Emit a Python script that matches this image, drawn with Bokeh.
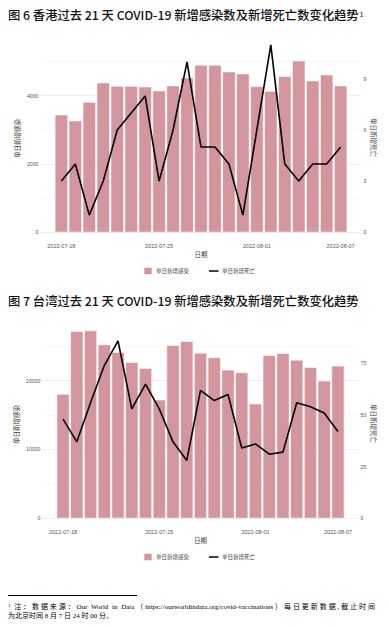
from bokeh.plotting import figure
from bokeh.models import (Range1d, LinearAxis, FixedTicker, SingleIntervalTicker,
                          Legend, LegendItem, Div)
from bokeh.layouts import column, row
from bokeh.embed import file_html
from bokeh.resources import INLINE

# ---------------- data ----------------
dates = ["2022-07-18", "2022-07-19", "2022-07-20", "2022-07-21", "2022-07-22",
         "2022-07-23", "2022-07-24", "2022-07-25", "2022-07-26", "2022-07-27",
         "2022-07-28", "2022-07-29", "2022-07-30", "2022-07-31", "2022-08-01",
         "2022-08-02", "2022-08-03", "2022-08-04", "2022-08-05", "2022-08-06",
         "2022-08-07"]
tick_dates = ["2022-07-18", "2022-07-25", "2022-08-01", "2022-08-07"]

hk_cases = [3441, 3265, 3814, 4382, 4284, 4284, 4265, 4147, 4294, 4529, 4902,
            4902, 4706, 4647, 4275, 4137, 4569, 5029, 4441, 4618, 4294]
hk_deaths = [3, 4, 1, 3, 6, 7, 8, 3, 6, 10, 5, 5, 4, 1, 6, 11, 4, 3, 4, 4, 5]

tw_cases = [18014, 27145, 27246, 25217, 24101, 22652, 21783, 17188, 25115, 25696,
            24000, 23333, 21536, 21159, 16609, 23667, 23957, 22986, 21928, 19942,
            22116]
tw_deaths = [48, 37, 56, 74, 86, 53, 65, 53, 37, 28, 62, 57, 60, 34, 36, 31, 32,
             56, 54, 51, 42]

title_hk = "图 6 香港过去 21 天 COVID-19 新增感染数及新增死亡数变化趋势"
title_tw = "图 7 台湾过去 21 天 COVID-19 新增感染数及新增死亡数变化趋势"
label_cases = "单日新增感染"
label_deaths = "单日新增死亡"
label_x = "日期"

BAR = "#D3969D"
CJK = "Noto Sans CJK SC"
LAT = "Liberation Sans"
W = 373
PW = 362          # chart figure width (rest holds the right-hand axis title)
PH = 238


def title_div(text, sup=""):
    sup_html = ("<span style=\"font-size:6px;vertical-align:top;position:relative;"
                "top:-1px;margin-left:1px;\">" + sup + "</span>") if sup else ""
    html = ("<div style=\"font-family:'Noto Sans CJK SC',sans-serif;font-size:12.3px;"
            "font-weight:500;line-height:15px;white-space:nowrap;color:#111;"
            "margin:0;padding:0;\">" + text + sup_html + "</div>")
    return Div(text=html, width=W, height=18, margin=0)


def right_title_div(text):
    html = ("<div style=\"writing-mode:vertical-rl;text-orientation:sideways;"
            "font-family:'Noto Sans CJK SC',sans-serif;font-size:6.5px;line-height:7px;"
            "color:#444;margin:92px 0 0 0;padding:0;white-space:nowrap;\">"
            + text + "</div>")
    return Div(text=html, width=W - PW, height=PH, margin=0)


def make_chart(cases, deaths, scale, left_interval, right_ticks, mb_left, mb_right):
    n = len(dates)
    xs = list(range(n))
    ymax = max(max(cases), max(deaths) * scale)
    pad = ymax * 0.05
    p = figure(width=PW, height=PH,
               x_range=Range1d(-1.495, n - 1 + 1.495),
               y_range=Range1d(-pad, ymax + pad),
               output_backend="svg", toolbar_location=None,
               min_border_left=mb_left, min_border_right=mb_right,
               min_border_top=9, min_border_bottom=23, margin=0)
    p.title.visible = False
    p.extra_y_ranges = {"deaths": Range1d(-pad / scale, (ymax + pad) / scale)}
    p.outline_line_color = None

    p.vbar(x=xs, top=cases, width=0.9, fill_color=BAR,
           line_color="white", line_width=0.6)
    p.line(x=xs, y=deaths, y_range_name="deaths", line_color="black",
           line_width=1.6)

    idx = [dates.index(d) for d in tick_dates]
    xa = p.xaxis[0]
    xa.ticker = FixedTicker(ticks=idx)
    xa.major_label_overrides = {i: dates[i] for i in idx}
    xa.axis_label = label_x

    ya = p.yaxis[0]
    ya.ticker = SingleIntervalTicker(interval=left_interval, num_minor_ticks=2)
    ya.axis_label = label_cases

    ra = LinearAxis(y_range_name="deaths", ticker=FixedTicker(ticks=right_ticks))
    p.add_layout(ra, "right")

    for ax in (xa, ya, ra):
        ax.axis_line_color = None
        ax.major_tick_line_color = None
        ax.minor_tick_line_color = None
        ax.major_tick_out = 0
        ax.major_tick_in = 0
        ax.minor_tick_out = 0
        ax.minor_tick_in = 0
        ax.major_label_text_font = LAT
        ax.major_label_text_font_size = "5.2px"
        ax.major_label_text_color = "#555555"
        ax.major_label_standoff = 2
        ax.axis_label_text_font = CJK
        ax.axis_label_text_font_size = "6.5px"
        ax.axis_label_text_font_style = "normal"
        ax.axis_label_text_color = "#444444"
        ax.axis_label_standoff = 2
    xa.major_label_text_font_size = "5.5px"
    xa.axis_label_standoff = -2

    p.xgrid.grid_line_color = None
    p.ygrid.grid_line_color = "#ebebeb"
    p.ygrid.grid_line_width = 0.8
    p.ygrid.minor_grid_line_color = "#f4f4f4"
    p.ygrid.minor_grid_line_width = 0.6
    return p


def legend_fig(cases, deaths):
    xs = list(range(len(dates)))
    lf = figure(width=W - 8, height=30, x_range=Range1d(0, 1), y_range=Range1d(0, 1),
                output_backend="svg", toolbar_location=None,
                x_axis_location=None, y_axis_location=None,
                min_border=0, min_border_left=0, min_border_right=0,
                min_border_top=0, min_border_bottom=0, margin=(0, 0, 0, 8))
    lf.title.visible = False
    lf.outline_line_color = None
    lf.xgrid.visible = False
    lf.ygrid.visible = False
    # hidden copies of the series: they only supply the legend keys
    r1 = lf.vbar(x=xs, top=cases, width=0.9, fill_color=BAR, line_color="white",
                 line_width=0.6, visible=False)
    r2 = lf.line(x=xs, y=deaths, line_color="black", line_width=1.6, visible=False)
    legend = Legend(items=[LegendItem(label=label_cases, renderers=[r1]),
                           LegendItem(label=label_deaths, renderers=[r2])],
                    orientation="horizontal", location="top_center",
                    glyph_width=10, glyph_height=9, label_height=9,
                    label_text_font=CJK, label_text_font_size="5.5px",
                    label_text_color="#444444", label_standoff=4,
                    spacing=19, padding=0, margin=2,
                    border_line_color=None, background_fill_alpha=0)
    lf.add_layout(legend, "center")
    return lf


p1 = make_chart(hk_cases, hk_deaths, 500, 2000, [0, 3, 6, 9], 25, 9)
p2 = make_chart(tw_cases, tw_deaths, 300, 10000, [0, 25, 50, 75], 28, 12)

note_line1 = ("注：数据来源：Our World in Data（https://ourworldindata.org/covid-vaccinations）"
              "每日更新数据,截止时间")
note_line2 = "为北京时间 8 月 7 日 24 时 00 分。"

html = (
    "<div style=\"width:367px;font-family:'Liberation Serif','Noto Sans CJK SC',serif;"
    "font-size:7px;line-height:8px;color:#000;margin:0;\">"
    "<div style=\"width:129px;height:0;border-top:1px solid #000;margin-top:15px;\"></div>"
    "<div style=\"margin-top:7px;text-align:justify;text-align-last:justify;\">"
    "<span style=\"font-size:5px;position:relative;top:-2px;\">1</span> "
    + note_line1 + "</div>"
    "<div>" + note_line2 + "</div>"
    "</div>"
)
note = Div(text=html, width=W, height=40, margin=0)

layout = column(title_div(title_hk, "1"),
                row(p1, right_title_div(label_deaths), margin=0),
                legend_fig(hk_cases, hk_deaths),
                title_div(title_tw),
                row(p2, right_title_div(label_deaths), margin=0),
                legend_fig(tw_cases, tw_deaths),
                note, margin=(8, 0, 0, 8))
open("out.html", "w").write(file_html(layout, INLINE))
